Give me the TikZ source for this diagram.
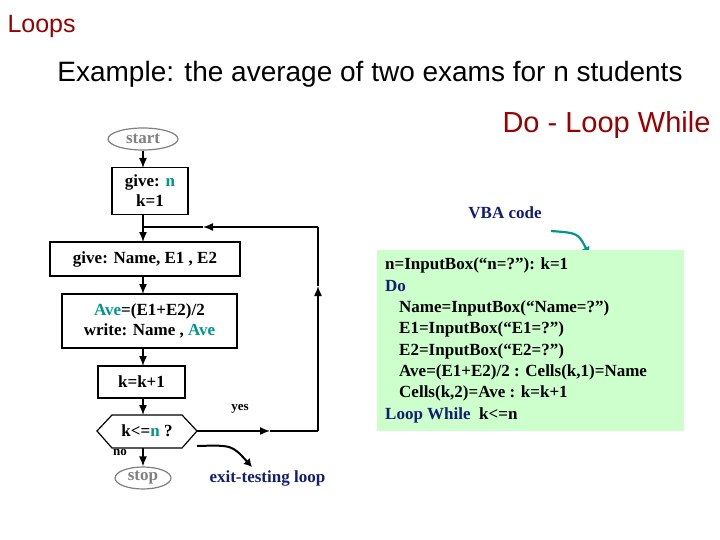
\documentclass[tikz,border=0pt]{standalone}
\usepackage{fontspec}
\setmainfont{Liberation Serif}
\newfontfamily\titlefont{Liberation Sans}
\usetikzlibrary{shapes.geometric,arrows.meta}
\definecolor{tealc}{RGB}{0,150,140}
\definecolor{navy}{RGB}{20,30,110}
\definecolor{darkred}{RGB}{153,0,0}
\definecolor{codebg}{RGB}{204,255,204}
\begin{document}
\begin{tikzpicture}[
x=1pt, y=-1pt,
every node/.style = {font=\fontsize{17}{20}\selectfont\bfseries},
procbox/.style = {draw, line width=1.2pt, minimum height=#1, inner sep=2pt},
terminal/.style = {draw=gray, line width=1.2pt, ellipse, text=gray, inner sep=0pt, font=\fontsize{17}{20}\selectfont\bfseries},
flow/.style = {line width=1.4pt, -{Latex[length=10pt,width=8pt]}},
plain/.style = {line width=1.4pt}
]
\useasboundingbox (0,0) rectangle (720,540);
\node[anchor=west, text=darkred, font=\titlefont\fontsize{25}{28}\selectfont] (loops) at (4,26) {Loops};
\node[font=\titlefont\fontsize{28}{32}\selectfont] (title) at (370,74) {Example: the average of two exams for n students};
\node[anchor=east, text=darkred, font=\titlefont\fontsize{29}{32}\selectfont] (dlw) at (714,125) {Do - Loop While};

% flowchart
\node[terminal, minimum width=70, minimum height=22] (start) at (143,139) {start};
\node[procbox=47, minimum width=76, align=center] (give) at (150,191) {give: \textcolor{tealc}{n}\\k=1};
\node[procbox=34, minimum width=190] (input) at (145,259) {give: Name, E1 , E2};
\node[procbox=54, minimum width=175, align=center] (ave) at (149.5,321) {\textcolor{tealc}{Ave}=(E1+E2)/2\\write: Name , \textcolor{tealc}{Ave}};
\node[procbox=32, minimum width=87] (incr) at (141.5,382) {k=k+1};
\node (test) at (147,431) {k<=\textcolor{tealc}{n} ?};
\draw[line width=1.2pt] (97,431) -- (112,415) -- (182,415) -- (197,431) -- (182,448) -- (112,448) -- cycle;
\node[terminal, minimum width=56, minimum height=22] (stop) at (143,478) {stop};
\coordinate (join) at (143,227);
\coordinate (corner) at (318,431);
\coordinate (top) at (318,227);

\draw[flow] (start) -- (143,168);
\draw[plain] (143,215) -- (join);
\draw[flow] (join) -- (143,242);
\draw[flow] (143,276) -- (143,294);
\draw[flow] (143,348) -- (143,366);
\draw[flow] (143,398) -- (143,415);
\draw[flow] (143,448) -- (stop);
\draw[flow] (197,431) -- (270,431);
\draw[plain] (270,431) -- (corner);
\draw[flow] (corner) -- (318,286);
\draw[plain] (318,286) -- (top);
\draw[flow] (top) -- (203,227);
\draw[plain] (203,227) -- (join);

\node[font=\fontsize{13}{15}\selectfont\bfseries] (yes) at (240,409) {yes};
\node[font=\fontsize{13}{15}\selectfont\bfseries] (no) at (120,452) {no};
\coordinate (exitfrom) at (197,446);
\coordinate (exitto) at (252,467);
\draw[line width=2pt, -{Latex[length=8pt,width=9pt]}] (exitfrom) .. controls (232,445) .. (exitto);
\node[anchor=west, text=navy] (exitlbl) at (206,478) {exit-testing loop};

% code
\node[text=navy] (vba) at (505,213) {VBA code};
\coordinate (vbafrom) at (551,231);
\coordinate (vbato) at (589,254);
\draw[line width=2.2pt, tealc, -{Latex[length=7pt,width=9pt]}] (vbafrom) .. controls (578,233) .. (vbato);
\fill[codebg] (377,250) rectangle (684,431);
\node[anchor=north west, align=left, inner sep=0pt, font=\fontsize{17}{21.3}\selectfont\bfseries] (code) at (385,258) {%
n=InputBox(“n=?”): k=1\\
\textcolor{navy}{Do}\\
\hspace*{14pt}Name=InputBox(“Name=?”)\\
\hspace*{14pt}E1=InputBox(“E1=?”)\\
\hspace*{14pt}E2=InputBox(“E2=?”)\\
\hspace*{14pt}Ave=(E1+E2)/2 : Cells(k,1)=Name\\
\hspace*{14pt}Cells(k,2)=Ave : k=k+1\\
\textcolor{navy}{Loop While}\ \ k<=n};
\end{tikzpicture}
\end{document}
